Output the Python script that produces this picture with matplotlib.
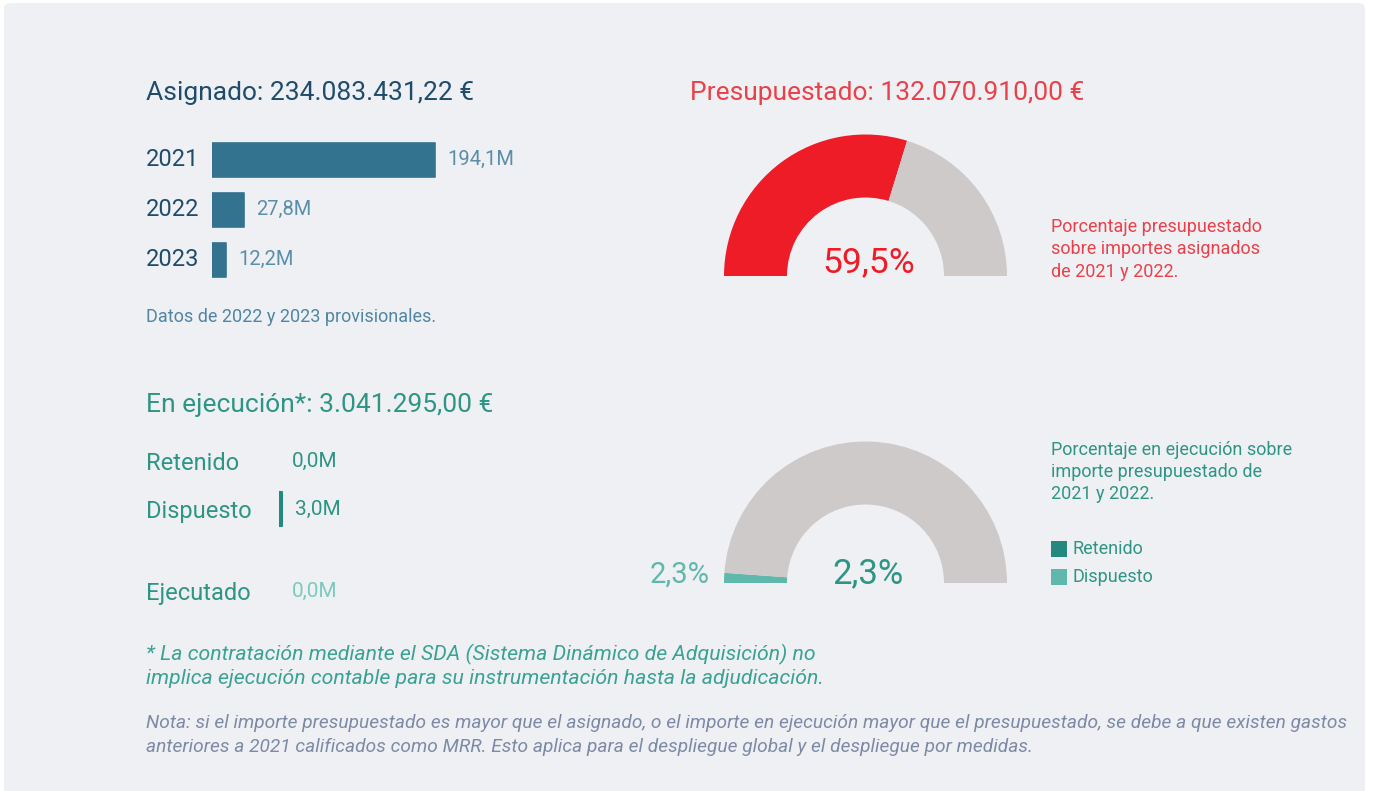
import matplotlib.pyplot as plt
from matplotlib.patches import FancyBboxPatch

plt.rcParams['font.family'] = ['Roboto', 'DejaVu Sans']

# data
years = ["2021", "2022", "2023"]
asignado_m = [194.1, 27.8, 12.2]
asignado_total = "234.083.431,22 €"

presupuestado_total = "132.070.910,00 €"
pct_presupuestado = 59.5

ejec_cats = ["Retenido", "Dispuesto", "Ejecutado"]
ejec_m = [0.0, 3.04, 0.0]
ejecucion_total = "3.041.295,00 €"
pct_retenido = 0.0
pct_dispuesto = 2.3

W, H = 1373, 791
NAVY = "#1f4c6b"
BAR = "#33738f"
BAR_TXT = "#5b8ea8"
RED = "#ee1c27"
RED_TXT = "#e8414a"
GREY = "#cdcac9"
TEAL = "#2e9585"
TEAL_DARK = "#23897f"
TEAL_LIGHT = "#60b7ab"
TEAL_PALE = "#7ccabd"
NOTE = "#7d8aa6"
PANEL = "#eff0f4"


def fx(px):
    return px / W


def fy(py):
    return 1 - py / H


def fmt(v):
    return f"{v:.1f}".replace(".", ",") + "M"


fig = plt.figure(figsize=(W / 100, H / 100), dpi=100)
fig.patch.set_facecolor("white")

# rounded background panel
panel = FancyBboxPatch((fx(4), fy(800)), fx(1361), 797 / H,
                       boxstyle="round,pad=0,rounding_size=0.006",
                       transform=fig.transFigure, facecolor=PANEL,
                       edgecolor="none", zorder=-10)
fig.patches.append(panel)


def txt(x, y, s, **kw):
    fig.text(fx(x), fy(y), s, **kw)


# ---------- Asignado ----------
txt(146, 93, "Asignado: " + asignado_total, fontsize=19, color=NAVY, va="center")

px_per_m = 223 / 194.1
ax1 = fig.add_axes([fx(212), fy(284.5), fx(400), 150 / H])
ax1.set_xlim(0, 400 / px_per_m)
ax1.set_ylim(2.5, -0.5)
ax1.axis("off")
bars = ax1.barh(range(len(years)), asignado_m, height=0.68, color=BAR,
                edgecolor=BAR, linewidth=1.2)
for b in bars:
    b.set_joinstyle("round")
for i, (y, v) in enumerate(zip(years, asignado_m)):
    ax1.annotate(fmt(v), (v, i), xytext=(9, 0), textcoords="offset points",
                 va="center", ha="left", fontsize=14.5, color=BAR_TXT)
    ax1.annotate(y, (fx(146), i), xycoords=("figure fraction", "data"),
                 va="center", ha="left", fontsize=17, color=NAVY)

txt(146, 317, "Datos de 2022 y 2023 provisionales.", fontsize=13,
    color="#4f86a3", va="center")

# ---------- Presupuestado gauge ----------
txt(690, 93, "Presupuestado: " + presupuestado_total, fontsize=19,
    color=RED_TXT, va="center")

R_PX, r_PX = 141.5, 78.5
SPAN = 150


def gauge_axes(cx, cy):
    ax = fig.add_axes([fx(cx - SPAN), fy(cy + SPAN), 2 * SPAN / W, 2 * SPAN / H])
    ax.axis("off")
    return ax


def half_donut(ax, values, colors):
    vals = list(values) + [100 - sum(values), 100]
    cols = list(colors) + [GREY, "none"]
    wedges, _ = ax.pie(vals, colors=cols, startangle=180, counterclock=False,
                       radius=1, wedgeprops=dict(width=1 - r_PX / R_PX,
                                                 linewidth=0))
    wedges[-1].set_visible(False)
    ax.set_xlim(-SPAN / R_PX, SPAN / R_PX)
    ax.set_ylim(-SPAN / R_PX, SPAN / R_PX)
    return wedges


axg1 = gauge_axes(865.5, 276)
half_donut(axg1, [pct_presupuestado], [RED])
axg1.text(0.02, 0.03, f"{pct_presupuestado:.1f}%".replace(".", ","),
          ha="center", va="baseline", fontsize=25.5, color=RED)

for i, line in enumerate(["Porcentaje presupuestado",
                          "sobre importes asignados",
                          "de 2021 y 2022."]):
    txt(1051, 227 + i * 22.5, line, fontsize=13, color=RED_TXT, va="center")

# ---------- En ejecución ----------
txt(146, 405, "En ejecución*: " + ejecucion_total, fontsize=19, color=TEAL,
    va="center")

# rows are 50 px apart; Ejecutado sits lower than the other two
ypos = [0, 0.96, 2.6]
ax2 = fig.add_axes([fx(279), fy(616), fx(300), 180 / H])
ax2.set_xlim(0, 300 / px_per_m)
ax2.set_ylim(3.1, -0.5)
ax2.axis("off")
bars2 = ax2.barh(ypos, ejec_m, height=0.68, color=TEAL_DARK, edgecolor=TEAL_DARK,
                 linewidth=[1.5 if v > 0 else 0 for v in ejec_m])
for b in bars2:
    b.set_joinstyle("round")
val_cols = [TEAL, TEAL, TEAL_PALE]
for i, (c, v) in enumerate(zip(ejec_cats, ejec_m)):
    ax2.annotate(fmt(v), (v, ypos[i]), xytext=(9, 0), textcoords="offset points",
                 va="center", ha="left", fontsize=15, color=val_cols[i])
    ax2.annotate(c, (fx(146), ypos[i]), xycoords=("figure fraction", "data"),
                 xytext=(0, -2), textcoords="offset points",
                 va="center", ha="left", fontsize=17, color=TEAL)

axg2 = gauge_axes(865.5, 583)
half_donut(axg2, [pct_retenido, pct_dispuesto], [TEAL_DARK, TEAL_LIGHT])
axg2.text(0.02, 0.0, f"{pct_retenido + pct_dispuesto:.1f}%".replace(".", ","),
          ha="center", va="baseline", fontsize=25, color=TEAL)
axg2.text(-1.1, 0.0, f"{pct_dispuesto:.1f}%".replace(".", ","),
          ha="right", va="baseline", fontsize=21, color=TEAL_LIGHT)

for i, line in enumerate(["Porcentaje en ejecución sobre",
                          "importe presupuestado de",
                          "2021 y 2022."]):
    txt(1051, 450 + i * 22, line, fontsize=13, color=TEAL, va="center")

for i, (lab, col) in enumerate([("Retenido", TEAL_DARK), ("Dispuesto", TEAL_LIGHT)]):
    yc = 549 + i * 28
    fig.patches.append(plt.Rectangle((fx(1051), fy(yc + 8)), fx(16), 16 / H,
                                     transform=fig.transFigure, facecolor=col,
                                     edgecolor="none"))
    txt(1073, yc, lab, fontsize=13, color=TEAL, va="center")

# ---------- footnotes ----------
txt(146, 654, "* La contratación mediante el SDA (Sistema Dinámico de Adquisición) no",
    fontsize=15.3, style="italic", color="#3aa293", va="center")
txt(146, 678, "implica ejecución contable para su instrumentación hasta la adjudicación.",
    fontsize=15.3, style="italic", color="#3aa293", va="center")
txt(146, 723, "Nota: si el importe presupuestado es mayor que el asignado, o el importe en "
    "ejecución mayor que el presupuestado, se debe a que existen gastos",
    fontsize=13.8, style="italic", color=NOTE, va="center")
txt(146, 747, "anteriores a 2021 calificados como MRR. Esto aplica para el despliegue "
    "global y el despliegue por medidas.",
    fontsize=13.8, style="italic", color=NOTE, va="center")

fig.savefig("out.png", dpi=100, facecolor="white")
